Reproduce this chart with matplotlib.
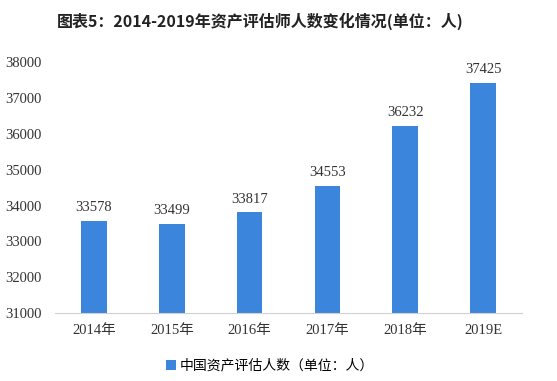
import matplotlib.pyplot as plt

plt.rcParams["font.family"] = ["Liberation Serif", "Noto Sans CJK SC"]

# Daten
jahre = ["2014年", "2015年", "2016年", "2017年", "2018年", "2019E"]
anzahl = [33578, 33499, 33817, 34553, 36232, 37425]
y_ticks = [31000, 32000, 33000, 34000, 35000, 36000, 37000, 38000]

fig = plt.figure(figsize=(5.57, 3.81), dpi=100)
ax = fig.add_axes([0.099, 0.178, 0.838, 0.659])

x = range(len(jahre))
bars = ax.bar(x, anzahl, width=0.33, color="#3b86dc",
              label="中国资产评估人数（单位：人）")

for bar, wert in zip(bars, anzahl):
    ax.text(bar.get_x() + bar.get_width() / 2, wert + 180, f"{wert}",
            ha="center", va="bottom", fontsize=10.5, color="#333333")

ax.set_ylim(31000, 38000)
ax.set_xlim(-0.5, len(jahre) - 0.5)
ax.set_yticks(y_ticks)
ax.set_xticks(list(x))
ax.set_xticklabels(jahre)
ax.tick_params(axis="both", length=0, labelsize=10.5, colors="#333333")
ax.tick_params(axis="x", pad=8)
ax.tick_params(axis="y", pad=10)

for side in ["top", "right", "left"]:
    ax.spines[side].set_visible(False)
ax.spines["bottom"].set_color("#d0d0d0")

fig.text(0.468, 0.945, "图表5：2014-2019年资产评估师人数变化情况(单位：人)",
         ha="center", va="center", fontsize=11.5, fontweight="bold",
         family=["Noto Sans CJK SC"], color="#222222")

fig.legend(loc="center", bbox_to_anchor=(0.485, 0.04), frameon=False,
           handlelength=0.7, handleheight=0.7, handletextpad=0.3,
           prop={"family": ["Noto Sans CJK SC"], "size": 10})

fig.savefig("out.png", dpi=100)
